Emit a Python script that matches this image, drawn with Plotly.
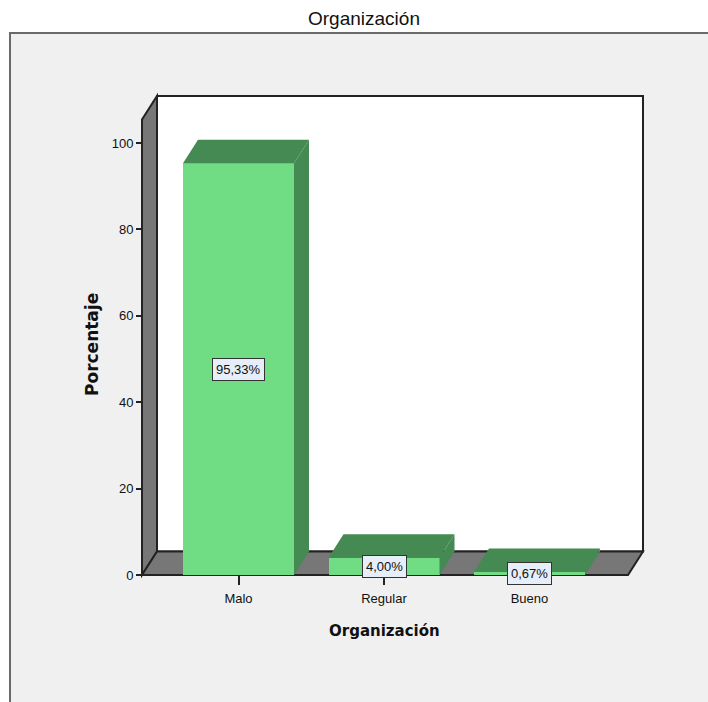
import plotly.graph_objects as go

# ---- data ----
categories = ["Malo", "Regular", "Bueno"]
percentages = [95.33, 4.00, 0.67]
y_ticks = [0, 20, 40, 60, 80, 100]
chart_title = "Organización"
x_title = "Organización"
y_title = "Porcentaje"

# ---- layout geometry (pixels) ----
W, H = 708, 702
PL, PR, PT, PB = 142, 643, 96, 575          # plot area edges
PX_PER_X = 145.5                            # pixels per category step
PX_PER_Y = 4.32                             # pixels per percent
X_ZERO_PX = 238.5                           # pixel of first category
DEPTH_PX_X, DEPTH_PX_Y = 15, 23.5           # 3-D extrusion offset

x_range = [(PL - X_ZERO_PX) / PX_PER_X, (PR - X_ZERO_PX) / PX_PER_X]
y_range = [0, (PB - PT) / PX_PER_Y]
DX = DEPTH_PX_X / PX_PER_X
DY = DEPTH_PX_Y / PX_PER_Y
BAR_W = 111 / PX_PER_X

FRONT = "#70DC84"
SHADE = "#448A52"
WALL = "#777777"
EDGE = "#222222"
FONT = "Liberation Sans, Arial, sans-serif"


def px_to_paper(px, py):
    return (px - PL) / (PR - PL), (PB - py) / (PB - PT)


def paper_path(points, close=True):
    pts = [px_to_paper(x, y) for x, y in points]
    return "M " + " L ".join(f"{x:.5f},{y:.5f}" for x, y in pts) + (" Z" if close else "")


fig = go.Figure()

# front faces of the bars
fig.add_trace(go.Bar(
    x=list(range(len(categories))), y=percentages, width=BAR_W,
    marker=dict(color=FRONT, line=dict(width=0)),
    hoverinfo="skip", showlegend=False,
))

# top and side faces of each bar
for i, v in enumerate(percentages):
    l, r = i - BAR_W / 2, i + BAR_W / 2
    top_x = [l, l + DX, r + DX, r, l]
    top_y = [v, v + DY, v + DY, v, v]
    side_x = [r, r + DX, r + DX, r, r]
    side_y = [v, v + DY, DY, 0, v]
    for xs, ys in ((top_x, top_y), (side_x, side_y)):
        fig.add_trace(go.Scatter(
            x=xs, y=ys, mode="lines", fill="toself", fillcolor=SHADE,
            line=dict(width=0, color=SHADE), hoverinfo="skip", showlegend=False,
        ))

# walls of the 3-D frame
back_l, back_r = PL + DEPTH_PX_X, PR
front_top = PT + DEPTH_PX_Y
floor_back = PB - DEPTH_PX_Y
FRAME_L, FRAME_T = 10, 33
shapes = [
    # grey chart frame (fill) and its top/left border
    dict(type="path", xref="paper", yref="paper",
         path=paper_path([(FRAME_L, FRAME_T), (W + 20, FRAME_T), (W + 20, H + 20), (FRAME_L, H + 20)]),
         fillcolor="#F0F0F0", line=dict(width=0), layer="below"),
    dict(type="path", xref="paper", yref="paper",
         path=paper_path([(FRAME_L, H + 20), (FRAME_L, FRAME_T), (W + 20, FRAME_T)], close=False),
         line=dict(color="#6A6A6A", width=2), layer="below"),
    # back wall
    dict(type="path", xref="paper", yref="paper",
         path=paper_path([(back_l, PT), (back_r, PT), (back_r, floor_back), (back_l, floor_back)]),
         fillcolor="white", line=dict(color=EDGE, width=2), layer="below"),
    # left wall
    dict(type="path", xref="paper", yref="paper",
         path=paper_path([(PL, front_top), (back_l, PT), (back_l, floor_back), (PL, PB)]),
         fillcolor=WALL, line=dict(color=EDGE, width=2), layer="below"),
    # floor
    dict(type="path", xref="paper", yref="paper",
         path=paper_path([(PL, PB), (back_l, floor_back), (back_r, floor_back), (PR - DEPTH_PX_X, PB)]),
         fillcolor=WALL, line=dict(color=EDGE, width=2), layer="below"),
]

annotations = []
# value labels
for i, v in enumerate(percentages):
    annotations.append(dict(
        x=i, y=v / 2, xref="x", yref="y", showarrow=False,
        xanchor="center", yanchor="middle",
        text=f"{v:.2f}%".replace(".", ","),
        font=dict(family=FONT, size=13, color="#111111"),
        bgcolor="#E6EEF9", bordercolor="#333333", borderwidth=1, borderpad=3,
    ))
# titles
tx, ty = px_to_paper(364, 19)
annotations.append(dict(x=tx, y=ty, xref="paper", yref="paper", showarrow=False,
                        xanchor="center", yanchor="middle",
                        text=chart_title, font=dict(family=FONT, size=19, color="#111111")))
annotations.append(dict(x=1, y=px_to_paper(0, 631)[1], xref="x", yref="paper", showarrow=False,
                        xanchor="center", yanchor="middle",
                        text=x_title,
                        font=dict(family="DejaVu Sans, sans-serif", size=15, color="#111111", weight="bold")))
yx, yy = px_to_paper(92, 345)
annotations.append(dict(x=yx, y=yy, xref="paper", yref="paper", showarrow=False, textangle=-90,
                        xanchor="center", yanchor="middle",
                        text=y_title,
                        font=dict(family="DejaVu Sans, sans-serif", size=17, color="#111111", weight="bold")))

fig.update_layout(
    width=W, height=H, autosize=False,
    margin=dict(l=PL, r=W - PR, t=PT, b=H - PB, pad=0),
    paper_bgcolor="white", plot_bgcolor="rgba(0,0,0,0)",
    shapes=shapes, annotations=annotations, bargap=0,
    xaxis=dict(range=x_range, tickvals=list(range(len(categories))), ticktext=categories,
               ticks="outside", ticklen=9, tickwidth=1.5, tickcolor=EDGE, ticklabelstandoff=2,
               showgrid=False, zeroline=False, showline=False,
               tickfont=dict(family=FONT, size=13, color="#111111"), fixedrange=True),
    yaxis=dict(range=y_range, tickvals=y_ticks, ticks="outside", ticklen=5, tickwidth=1.5,
               tickcolor=EDGE, showgrid=False, zeroline=False, showline=False,
               tickfont=dict(family=FONT, size=13, color="#111111"), fixedrange=True),
)

fig.write_html("out.html")
